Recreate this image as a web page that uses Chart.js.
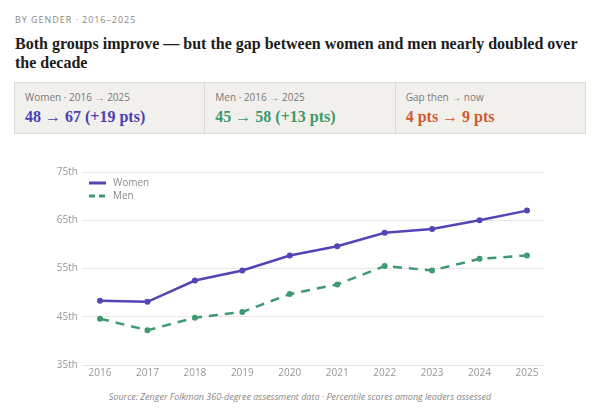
<!DOCTYPE html>
<html>
<head>
<meta charset="utf-8">
<script src="https://cdn.jsdelivr.net/npm/chart.js@4.4.1/dist/chart.umd.min.js"></script>
<style>
  html, body { margin: 0; padding: 0; background: #ffffff; }
  body { width: 600px; height: 413px; position: relative; overflow: hidden; font-family: "Open Sans", "Noto Sans", sans-serif; }
  .eyebrow { position: absolute; left: 15px; top: 13px; font-size: 9px; letter-spacing: 0.95px; color: #8a8783; }
  .title { position: absolute; left: 15px; top: 34px; width: 580px; font-family: "Liberation Serif", serif; font-weight: bold; font-size: 16px; line-height: 19px; color: #1c1c1c; }
  .cards { position: absolute; left: 14px; top: 82px; width: 572px; height: 52px; background: #f1f0ed; border: 1px solid #dddad5; display: flex; box-sizing: border-box; }
  .card { flex: 1; padding: 8px 0 0 10px; border-right: 1px solid #dddad5; }
  .card:last-child { border-right: none; }
  .card .lab { font-size: 10px; color: #7c7975; line-height: 13px; }
  .card .val { font-family: "Liberation Serif", serif; font-weight: bold; font-size: 16px; line-height: 22px; margin-top: 2px; }
  .chartbox { position: absolute; left: 0; top: 160px; width: 600px; height: 225px; }
  .source { position: absolute; left: 0; width: 600px; top: 390px; text-align: center; font-size: 9px; font-style: italic; color: #8a8783; }
</style>
</head>
<body>
<div class="eyebrow">BY GENDER · 2016–2025</div>
<div class="title">Both groups improve — but the gap between women and men nearly doubled over the decade</div>
<div class="cards">
  <div class="card"><div class="lab">Women · 2016 → 2025</div><div class="val" style="color:#4a3fb3">48 → 67 (+19 pts)</div></div>
  <div class="card"><div class="lab">Men · 2016 → 2025</div><div class="val" style="color:#3a9a6c">45 → 58 (+13 pts)</div></div>
  <div class="card"><div class="lab">Gap then → now</div><div class="val" style="color:#d2582d">4 pts → 9 pts</div></div>
</div>
<div class="chartbox"><canvas id="c"></canvas></div>
<div class="source">Source: Zenger Folkman 360-degree assessment data · Percentile scores among leaders assessed</div>
<script>
const years = [2016, 2017, 2018, 2019, 2020, 2021, 2022, 2023, 2024, 2025];
const women = [48.3, 48.1, 52.5, 54.6, 57.7, 59.6, 62.4, 63.2, 65.0, 67.0];
const men = [44.6, 42.2, 44.8, 46.0, 49.7, 51.7, 55.5, 54.6, 57.0, 57.7];
const yTicks = [35, 45, 55, 65, 75];
const seriesNames = ['Women', 'Men'];

const WOMEN_COLOR = '#5246b6';
const MEN_COLOR = '#3f9a72';

const legendPlugin = {
  id: 'innerLegend',
  afterDraw(chart) {
    const ctx = chart.ctx;
    const area = chart.chartArea;
    const x0 = area.left + 7;
    let y = area.top + 11;
    chart.data.datasets.forEach((ds) => {
      ctx.save();
      ctx.strokeStyle = ds.borderColor;
      ctx.lineWidth = 3;
      ctx.setLineDash(ds.borderDash && ds.borderDash.length ? [6, 4] : []);
      ctx.beginPath();
      ctx.moveTo(x0, y);
      ctx.lineTo(x0 + 17, y);
      ctx.stroke();
      ctx.setLineDash([]);
      ctx.fillStyle = '#8f8c88';
      ctx.font = '10px "Open Sans", sans-serif';
      ctx.textBaseline = 'middle';
      ctx.fillText(ds.label, x0 + 24, y);
      ctx.restore();
      y += 13;
    });
  }
};

new Chart(document.getElementById('c'), {
  type: 'line',
  data: {
    datasets: [
      {
        label: seriesNames[0],
        data: years.map((yr, i) => ({ x: yr, y: women[i] })),
        borderColor: WOMEN_COLOR,
        backgroundColor: WOMEN_COLOR,
        borderWidth: 2.5,
        pointRadius: 3,
        pointBorderWidth: 0,
        tension: 0
      },
      {
        label: seriesNames[1],
        data: years.map((yr, i) => ({ x: yr, y: men[i] })),
        borderColor: MEN_COLOR,
        backgroundColor: MEN_COLOR,
        borderWidth: 2.5,
        borderDash: [9, 7],
        pointRadius: 3,
        pointBorderWidth: 0,
        tension: 0
      }
    ]
  },
  options: {
    responsive: true,
    maintainAspectRatio: false,
    animation: false,
    layout: { padding: { left: 0, right: 55, top: 12, bottom: 0 } },
    plugins: { legend: { display: false }, tooltip: { enabled: false } },
    scales: {
      x: {
        type: 'linear',
        min: 2015.62,
        max: 2025.38,
        afterBuildTicks: (s) => { s.ticks = years.map(v => ({ value: v })); },
        afterFit: (s) => { s.height = 20; },
        grid: { display: false, drawTicks: false },
        border: { display: false },
        ticks: {
          color: '#9a9794',
          font: { family: '"Open Sans", sans-serif', size: 10 },
          padding: 2,
          maxRotation: 0,
          callback: (v) => String(v)
        }
      },
      y: {
        min: 35,
        max: 75,
        afterBuildTicks: (s) => { s.ticks = yTicks.map(v => ({ value: v })); },
        afterFit: (s) => { s.width = 82; },
        grid: { color: '#e9e7e3', lineWidth: 1, drawTicks: false },
        border: { display: false },
        ticks: {
          color: '#9a9794',
          font: { family: '"Open Sans", sans-serif', size: 10 },
          padding: 4,
          callback: (v) => v + 'th'
        }
      }
    }
  },
  plugins: [legendPlugin]
});
</script>
</body>
</html>
